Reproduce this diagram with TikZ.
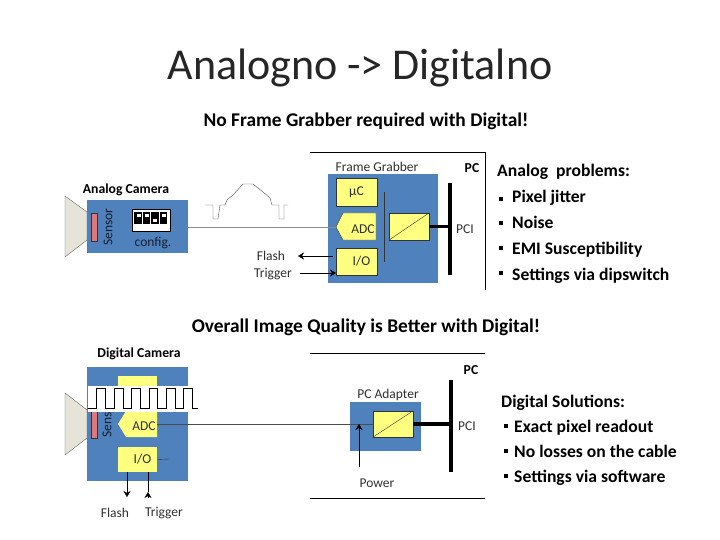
\documentclass[tikz,border=0pt]{standalone}
\usepackage{fontspec}
\setmainfont{Carlito}
\usetikzlibrary{calc,positioning,arrows.meta}
\definecolor{camblue}{HTML}{4F81BD}
\definecolor{boxyellow}{HTML}{FFFF80}
\definecolor{sensorred}{HTML}{E07878}
\definecolor{lensgrey}{HTML}{E6E3D8}
\definecolor{lblgrey}{HTML}{303030}
\tikzset{
  panel/.style={rectangle, fill=camblue, inner sep=0pt},
  unit/.style={rectangle, draw=black!80, fill=boxyellow, inner sep=0pt, minimum width=40pt, minimum height=27pt, font=\fontsize{13.5}{15}\selectfont, text=lblgrey},
  sensor/.style={rectangle, draw=black!80, fill=sensorred, inner sep=0pt, minimum width=6pt},
  lens/.style={draw=black!60, fill=lensgrey, thin},
  lbl/.style={font=\fontsize{13.5}{15}\selectfont, text=lblgrey, inner sep=0pt},
  head/.style={font=\fontsize{19.4}{22}\selectfont\bfseries, inner sep=0pt},
  sub/.style={font=\fontsize{13.7}{15}\selectfont\bfseries, inner sep=0pt},
  lhead/.style={font=\fontsize{17.6}{20}\selectfont\bfseries, inner sep=0pt, text height=11pt, text depth=3pt},
  item/.style={font=\fontsize{17.6}{20}\selectfont\bfseries, inner sep=0pt, text height=11pt, text depth=3pt},
  bull/.style={rectangle, fill=black, inner sep=0pt, minimum size=4pt},
  arr/.style={-{Stealth[length=6pt,width=7pt]}, thin},
  cable/.style={draw=black!45, thin},
  bus/.style={draw=black, line width=3.5pt},
  frame/.style={draw=black, semithick},
  dip/.style={rectangle, fill=black, inner sep=0pt, minimum width=7.5pt, minimum height=12pt},
  notch/.style={rectangle, fill=white, inner sep=0pt, minimum width=4pt, minimum height=2.5pt},
}
\begin{document}
\begin{tikzpicture}[x=1pt, y=-1pt]
  \useasboundingbox (0,0) rectangle (720,540);
  \node[font=\fontsize{44}{48}\selectfont, text=black!85, inner sep=0pt] (title) at (360,68.5) {Analogno -> Digitalno};
  \node[head] (nograbber) at (366,121.5) {No Frame Grabber required with Digital!};
  \node[head] (quality) at (366,327.5) {Overall Image Quality is Better with Digital!};

  % ---- Analog camera ----
  \fill[lens] (65,196) -- (87,212) -- (87,240) -- (65,257) -- cycle;
  \node[panel, minimum width=101pt, minimum height=53pt] (acam) at (137.5,226.5) {};
  \node[sub] (acamlbl) at (126,190) {Analog Camera};
  \node[sensor, minimum height=28pt] (asens) at (94,227) {};
  \node[lbl, rotate=90, text=black!75!camblue] (asenslbl) at (108,227) {Sensor};
  \node[rectangle, fill=white, draw=black, inner sep=0pt, minimum width=38pt, minimum height=22pt] (config) at (151,220) {};
  \node[dip] (d1) at (138,218) {};
  \node[dip] (d2) at (146.5,218) {};
  \node[dip] (d3) at (155,218) {};
  \node[dip] (d4) at (163.5,218) {};
  \node[notch] at (138.5,215.5) {};
  \node[notch] at (147,215.5) {};
  \node[notch] at (154.5,220.5) {};
  \node[notch] at (163.5,215.5) {};
  \node[lbl, text=black!75!camblue] (configlbl) at (153,243) {config.};

  % ---- Signal shape ----
  \draw[black!70, thin] (205,205) -- (213,205) -- (213,219) -- (218,219) -- (220,205) -- (225,205)
    -- (227,200) -- (233,195) -- (243,184) -- (253,184) -- (263,192) -- (270,198) -- (272,205)
    -- (279,205) -- (279,219) -- (284,219) -- (284,205) -- (288,205);

  % ---- Frame grabber ----
  \node[panel, minimum width=110pt, minimum height=109pt] (grabber) at (383,228.5) {};
  \node[lbl] (grabberlbl) at (377,167) {Frame Grabber};
  \node[unit, minimum height=28pt, minimum width=41pt] (mc) at (356.5,192) {\raisebox{-2pt}{µC}};
  \draw[draw=black!80, fill=boxyellow] (336,227) -- (343,213) -- (376,213) -- (376,240) -- (343,240) -- cycle;
  \coordinate (adc) at (336,227);
  \node[lbl] (adclbl) at (363,229) {ADC};
  \node[unit, minimum width=41pt] (io) at (356.5,261.5) {\hspace{10pt}\raisebox{-2pt}{I/O}};
  \draw[draw=black!80, thin] (384,192) -- (384,262);
  \node[unit] (conv) at (409,226.5) {};
  \draw[black!80, thin] (conv.south west) -- (conv.north east);
  \coordinate (pcitop) at (450,183);
  \coordinate (pcibot) at (450,275);
  \draw[bus] (pcitop) -- (pcibot);
  \draw[bus] (conv.east) -- (conv.east -| pcitop);
  \node[lbl] (pcilbl) at (465,229) {PCI};
  \node[sub] (pc) at (472,168) {PC};
  \coordinate (ftl) at (310,152);
  \coordinate (ftr) at (485,152);
  \coordinate (fbr) at (485,290);
  \draw[frame] (ftl) -- (ftr) -- (fbr);

  % ---- Analog arrows ----
  \draw[cable] (acam.east |- adc) -- (adc);
  \node[lbl] (aflash) at (271,256) {Flash};
  \node[lbl] (atrig) at (273,274) {Trigger};
  \coordinate (aflashtail) at (333,256);
  \coordinate (aflashtip) at (298,256);
  \coordinate (atrigtail) at (300,273);
  \coordinate (atrigtip) at (336,273);
  \draw[arr] (aflashtail) -- (aflashtip);
  \draw[arr] (atrigtail) -- (atrigtip);

  % ---- Analog problems ----
  \node[lhead, anchor=west] (probs) at (497,173) {Analog\ \ problems:};
  \node[item, anchor=west] (p1) at (512,199) {Pixel jitter};
  \node[item, below=11.3pt of p1.south west, anchor=north west] (p2) {Noise};
  \node[item, below=11.3pt of p2.south west, anchor=north west] (p3) {EMI Susceptibility};
  \node[item, below=11.3pt of p3.south west, anchor=north west] (p4) {Settings via dipswitch};
  \node[bull] at (501,199) {};
  \node[bull] at (501,223) {};
  \node[bull] at (501,248) {};
  \node[bull] at (501,273) {};

  % ---- Digital camera ----
  \fill[lens] (65,393) -- (87,410) -- (87,438) -- (65,455) -- cycle;
  \node[panel, minimum width=101pt, minimum height=114pt] (dcam) at (137.5,424) {};
  \node[sub] (dcamlbl) at (139,354) {Digital Camera};
  \node[sensor, minimum height=36pt] (dsens) at (94,420) {};
  \node[lbl, rotate=90, text=black!75!camblue] (dsenslbl) at (107,419) {Sensor};
  \node[rectangle, fill=boxyellow, inner sep=0pt, minimum width=39pt, minimum height=20pt] (dmc) at (137.5,386) {};
  \draw[fill=boxyellow, draw=none] (118,424) -- (126,411) -- (157,411) -- (157,437) -- (126,437) -- cycle;
  \coordinate (dadc) at (157,424);
  \node[lbl] (dadclbl) at (144,426) {ADC};
  \node[unit, draw=none, minimum width=39pt, minimum height=25pt] (dio) at (137.5,459.5) {\hspace{10pt}\raisebox{-1pt}{I/O}};
  \coordinate (diostub) at (169,459);
  \draw[black!80, thin] (dio.east) -- (diostub);

  % ---- Digital signal ----
  \node[rectangle, fill=white, inner sep=0pt, minimum width=110pt, minimum height=26pt] (band) at (143,399) {};
  \draw[black, semithick] (88,408) -- ++(8.7,0) -- ++(0,-20) -- ++(8.7,0) -- ++(0,20) -- ++(8.7,0) -- ++(0,-20)
    -- ++(8.7,0) -- ++(0,20) -- ++(8.7,0) -- ++(0,-20) -- ++(8.7,0) -- ++(0,20) -- ++(8.7,0) -- ++(0,-20)
    -- ++(8.7,0) -- ++(0,20) -- ++(8.7,0) -- ++(0,-20) -- ++(8.7,0) -- ++(0,20) -- ++(8.7,0) -- ++(0,-20)
    -- ++(8.7,0) -- ++(0,20) -- ++(6,0);

  % ---- Digital arrows ----
  \node[lbl] (dflash) at (115,513) {Flash};
  \node[lbl] (dtrig) at (164,513) {Trigger};
  \coordinate (dflashend) at (127,497);
  \coordinate (dtrigend) at (148,492);
  \coordinate (dtrigtail) at (148,498);
  \draw[arr] (dio.south -| dflashend) -- (dflashend);
  \draw[black, thin] (dio.south -| dtrigend) -- (dtrigend);
  \draw[arr] (dtrigtail) -- (dtrigend);

  % ---- PC adapter ----
  \node[panel, minimum width=71pt, minimum height=49pt] (adapter) at (385.5,426.5) {};
  \node[lbl] (adapterlbl) at (388,395) {PC Adapter};
  \node[unit, minimum height=26pt] (dconv) at (393,424) {};
  \draw[black!80, thin] (dconv.south west) -- (dconv.north east);
  \draw[black!70, thin] (dadc) -- (dconv.west);
  \coordinate (dpcitop) at (451,380);
  \coordinate (dpcibot) at (451,472);
  \draw[bus] (dpcitop) -- (dpcibot);
  \draw[bus] (dconv.east) -- (dconv.east -| dpcitop);
  \node[lbl] (dpcilbl) at (467,426) {PCI};
  \node[sub] (dpc) at (471,370) {PC};
  \node[lbl] (powerlbl) at (377,483) {Power};
  \coordinate (powertail) at (359,467);
  \coordinate (powertip) at (359,424);
  \draw[arr] (powertail) -- (powertip);
  \coordinate (dtl) at (310,353);
  \coordinate (dtr) at (485,353);
  \coordinate (dbl) at (310,498);
  \coordinate (dbr) at (485,498);
  \draw[frame] (dtl) -- (dtr);
  \draw[frame] (dbl) -- (dbr);

  % ---- Digital solutions ----
  \node[lhead, anchor=west] (sols) at (501,403) {Digital Solutions:};
  \node[item, anchor=west] (s1) at (514,428) {Exact pixel readout};
  \node[item, below=11pt of s1.south west, anchor=north west] (s2) {No losses on the cable};
  \node[item, below=11pt of s2.south west, anchor=north west] (s3) {Settings via software};
  \node[bull] at (506,426) {};
  \node[bull] at (506,451) {};
  \node[bull] at (506,476) {};
\end{tikzpicture}
\end{document}
